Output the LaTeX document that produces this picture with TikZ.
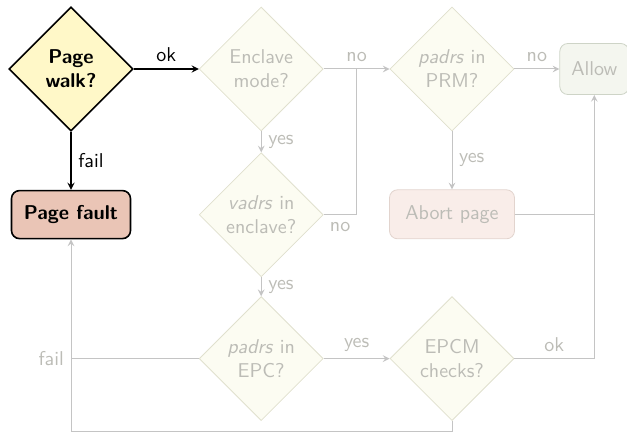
\documentclass[tikz,border=0pt]{standalone}
\usepackage{tikz}
\usetikzlibrary{arrows.meta, shapes, arrows, calc, positioning}
\renewcommand{\familydefault}{\sfdefault}
\definecolor{walkfill}{RGB}{255,248,200}
\definecolor{faultfill}{RGB}{234,197,182}
\definecolor{dimtext}{RGB}{188,188,182}
\definecolor{dimline}{RGB}{196,196,196}
\definecolor{dimborder}{RGB}{224,224,206}
\definecolor{dimfill}{RGB}{252,252,242}
\definecolor{abortfill}{RGB}{249,237,233}
\definecolor{abortborder}{RGB}{226,212,206}
\definecolor{allowfill}{RGB}{244,246,239}
\definecolor{allowborder}{RGB}{206,212,199}
\tikzstyle{check} = [diamond, aspect=1, minimum width=62pt, minimum height=62pt, inner sep=0pt, align=center, draw=black, thick, fill=walkfill, font=\bfseries]
\tikzstyle{dimcheck} = [diamond, aspect=1, minimum width=62pt, minimum height=62pt, inner sep=0pt, align=center, draw=dimborder, fill=dimfill, text=dimtext]
\tikzstyle{fault} = [rectangle, rounded corners=4pt, minimum width=59.5pt, minimum height=24pt, text centered, draw=black, thick, fill=faultfill, font=\bfseries]
\tikzstyle{abortbox} = [rectangle, rounded corners=4pt, minimum width=62.5pt, minimum height=24.5pt, text centered, draw=abortborder, fill=abortfill, text=dimtext]
\tikzstyle{allowbox} = [rectangle, rounded corners=4pt, minimum width=34.5pt, minimum height=25.5pt, text centered, draw=allowborder, fill=allowfill, text=dimtext]
\tikzset{
	ARROW/.style={line width=0.6pt, -stealth},
	DARROW/.style={draw=dimline, line width=0.5pt, -stealth},
	DLINE/.style={draw=dimline, line width=0.5pt},
	dimlabel/.style={text=dimtext}
}

\begin{document}
\begin{tikzpicture}
	\useasboundingbox (0,0) rectangle (313.5pt,-216.5pt);
	\node (walk) [check] at (35.5pt,-34.5pt) {Page\\walk?};
	\node (enclave) [dimcheck, right = 32.5pt of walk] {Enclave\\mode?};
	\node (prm) [dimcheck, right = 33pt of enclave] {\textit{padrs} in\\PRM?};
	\node (allow) [allowbox, right = 22.5pt of prm] {Allow};
	\node (fault) [fault, below = 29pt of walk] {Page fault};
	\node (vadrs) [dimcheck, below = 10.5pt of enclave] {\textit{vadrs} in\\enclave?};
	\node (abort) [abortbox, below = 29pt of prm] {Abort page};
	\node (epc) [dimcheck, below = 9.5pt of vadrs] {\textit{padrs} in\\EPC?};
	\node (epcm) [dimcheck, right = 33pt of epc] {EPCM\\checks?};
	\coordinate (join) at ($(enclave.east)!0.5!(prm.west)$);
	\coordinate (low) at ($(epcm.south)+(0,-5pt)$);
	\draw [ARROW] (walk) -- node[above] {ok} (enclave);
	\draw [ARROW] (walk) -- node[right] {fail} (fault);
	\draw [DARROW] (enclave) -- node[right, dimlabel] {yes} (vadrs);
	\draw [DARROW] (enclave) -- node[above, dimlabel] {no} (prm);
	\draw [DLINE] (vadrs.east) -- node[below, dimlabel] {no} (vadrs.east -| join) -- (join);
	\draw [DARROW] (prm) -- node[above, dimlabel] {no} (allow);
	\draw [DARROW] (prm) -- node[right, dimlabel] {yes} (abort);
	\draw [DARROW] (vadrs) -- node[right, dimlabel] {yes} (epc);
	\draw [DARROW] (epc) -- node[above, dimlabel] {yes} (epcm);
	\draw [DLINE] (abort) -- (abort -| allow.south);
	\draw [DARROW] (epcm.east) -- node[above, dimlabel] {ok} (epcm.east -| allow.south) -- (allow.south);
	\draw [DARROW] (epc.west) -- (epc.west -| fault.south) node[left, dimlabel] {fail} -- (fault.south);
	\draw [DLINE] (epcm.south) -- (low) -| (epc.west -| fault.south);
\end{tikzpicture}
\end{document}
